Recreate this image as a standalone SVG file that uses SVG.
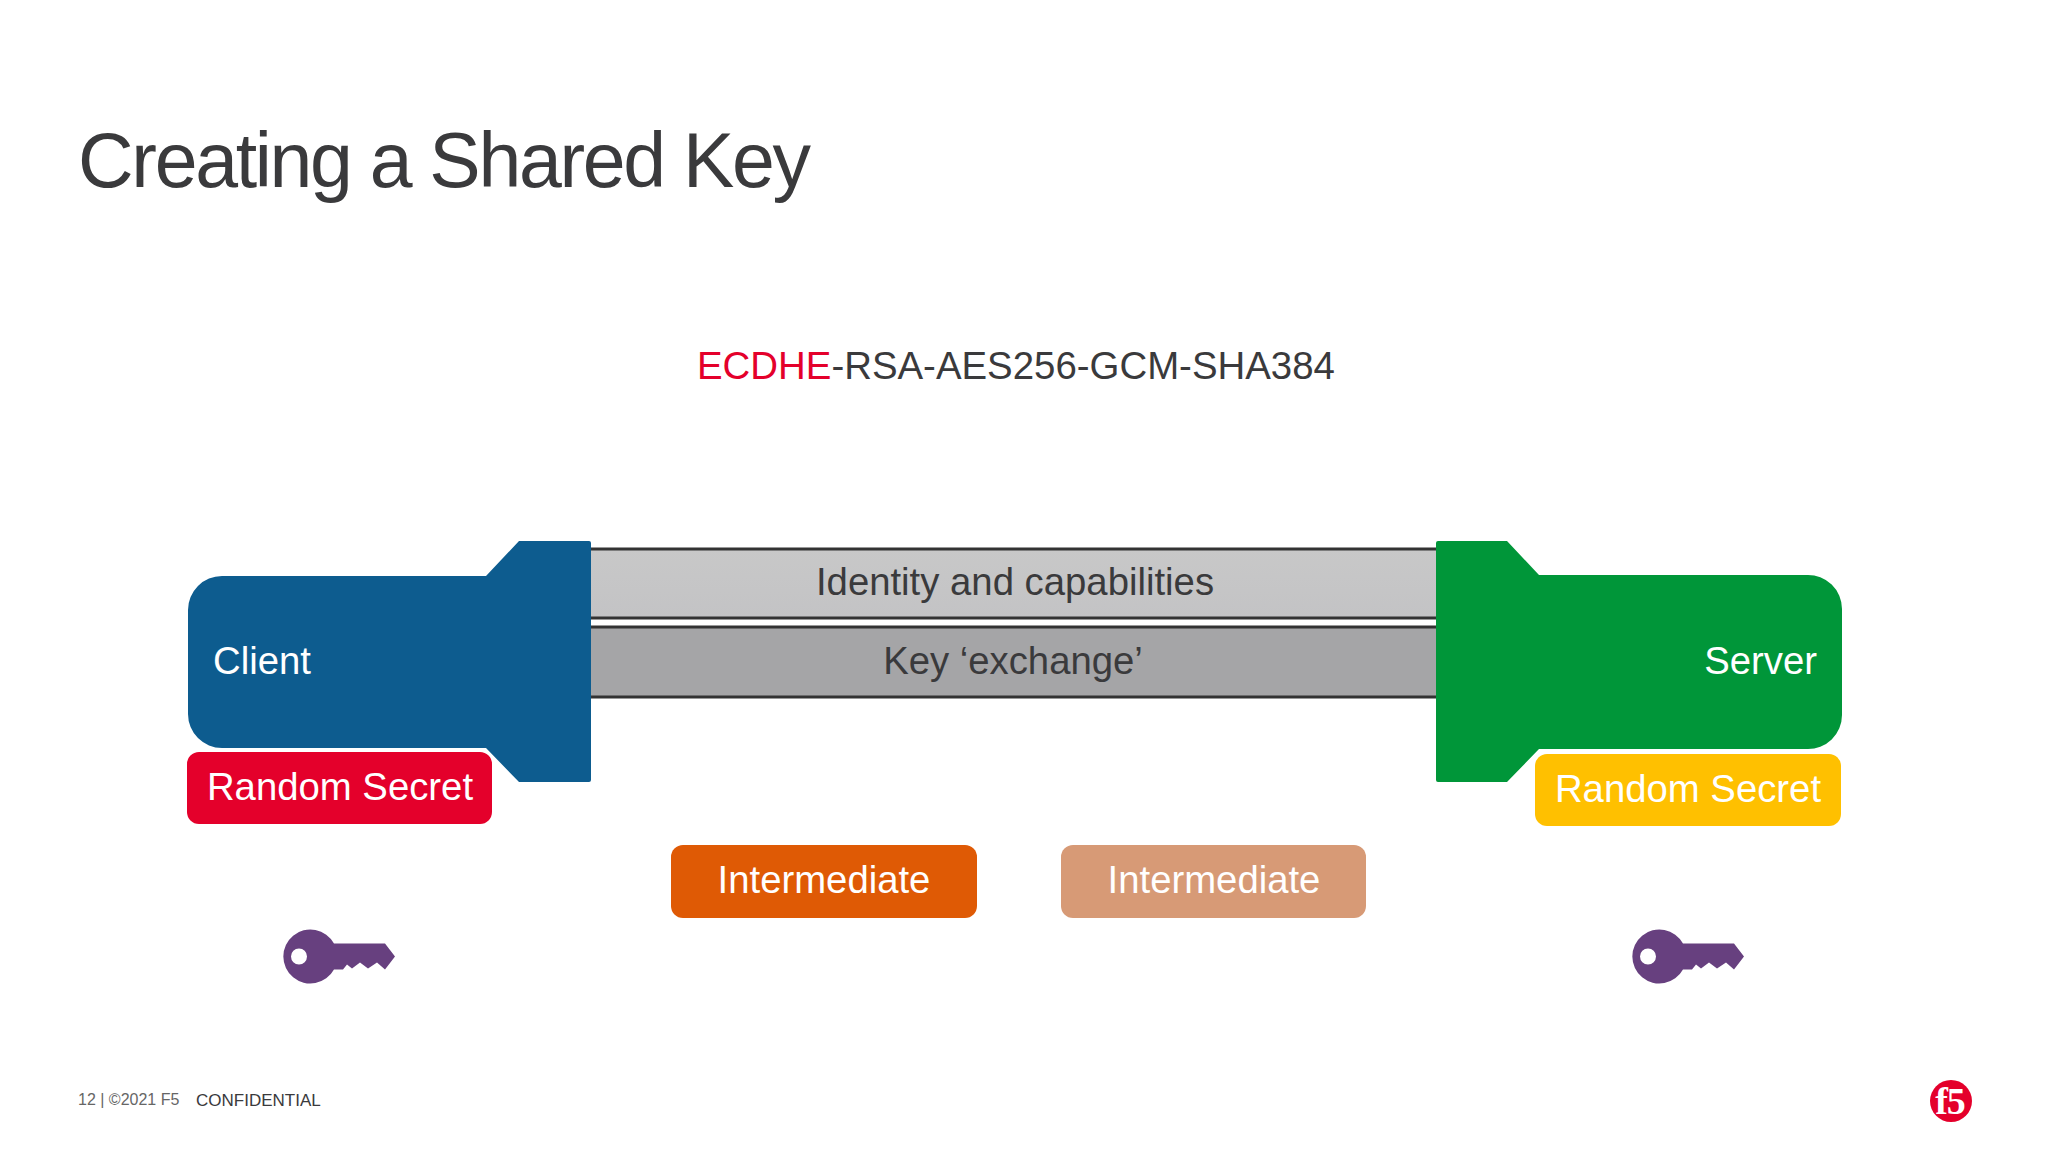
<svg xmlns="http://www.w3.org/2000/svg" width="2048" height="1152" viewBox="0 0 2048 1152">
<defs>
<linearGradient id="bar1" x1="0" y1="0" x2="0" y2="1"><stop offset="0" stop-color="#c8c8c8"/><stop offset="1" stop-color="#c3c3c5"/></linearGradient>
<g id="key">
<path fill="#67407f" fill-rule="evenodd" d="M334 943.500H385L395 956.500L385 969.500L377 962.500L368 968.500L360 962.500L352 968.500L347 964.500L343 969.500H334A27 27 0 1 1 334 943.500ZM307 956.500A8 8 0 1 0 291 956.500A8 8 0 1 0 307 956.500Z"/>
</g>
</defs>
<style>
text{font-family:"Liberation Sans",Arial,sans-serif}
.w{fill:#fff;font-size:38.3px}
.d{fill:#3a3a3c;font-size:38.3px}
.bar{stroke:#333;stroke-width:3}
</style>
<rect width="2048" height="1152" fill="#fff"/>
<g id="title"><text x="78" y="187" font-size="77" fill="#3a3a3c" letter-spacing="-2.3">Creating a Shared Key</text></g>
<g id="cipher"><text x="697" y="379" font-size="38.4" fill="#3a3a3c"><tspan fill="#e4002b">ECDHE</tspan>-RSA-AES256-GCM-SHA384</text></g>
<g id="connectors">
<g id="identity"><rect class="bar" x="585" y="549" width="857" height="69" fill="url(#bar1)"/><text class="d" x="1015" y="595" text-anchor="middle">Identity and capabilities</text></g>
<g id="exchange"><rect class="bar" x="585" y="627" width="857" height="70" fill="#a5a5a7"/><text class="d" x="1013" y="674" text-anchor="middle">Key ‘exchange’</text></g>
</g>
<g id="client"><path fill="#0d5c8f" d="M222 576H486L519 541H589Q591 541 591 543V780Q591 782 589 782H519L486 748H222A34 34 0 0 1 188 714V610A34 34 0 0 1 222 576Z"/><text class="w" x="213" y="674">Client</text></g>
<g id="server"><path fill="#009639" d="M1436 543Q1436 541 1438 541H1507L1539 575H1807A34 34 0 0 1 1842 609V715A34 34 0 0 1 1807 749H1539L1507 782H1438Q1436 782 1436 780Z"/><text class="w" x="1817" y="674" text-anchor="end">Server</text></g>
<g id="client-secret"><rect x="187" y="752" width="305" height="72" rx="12" fill="#e4002b"/><text class="w" x="340" y="800" text-anchor="middle">Random Secret</text></g>
<g id="server-secret"><rect x="1535" y="754" width="306" height="72" rx="12" fill="#ffc000"/><text class="w" x="1688" y="802" text-anchor="middle">Random Secret</text></g>
<g id="intermediate-1"><rect x="671" y="845" width="306" height="73" rx="12" fill="#df5a05"/><text class="w" x="824" y="893" text-anchor="middle">Intermediate</text></g>
<g id="intermediate-2"><rect x="1061" y="845" width="305" height="73" rx="12" fill="#d79a76"/><text class="w" x="1214" y="893" text-anchor="middle">Intermediate</text></g>
<g id="key-client"><use href="#key"/></g>
<g id="key-server"><use href="#key" x="1349"/></g>
<g id="footer"><text x="78" y="1105" font-size="16" fill="#666">12 | ©2021 F5</text><text x="196" y="1105.500" font-size="17" fill="#3a3a3c">CONFIDENTIAL</text></g>
<g id="logo"><circle cx="1951" cy="1101" r="21" fill="#e4002b"/><text x="1950" y="1114" text-anchor="middle" font-size="38" font-weight="700" fill="#fff" letter-spacing="-1" style="font-family:'Liberation Serif',serif">f5</text></g>
</svg>
